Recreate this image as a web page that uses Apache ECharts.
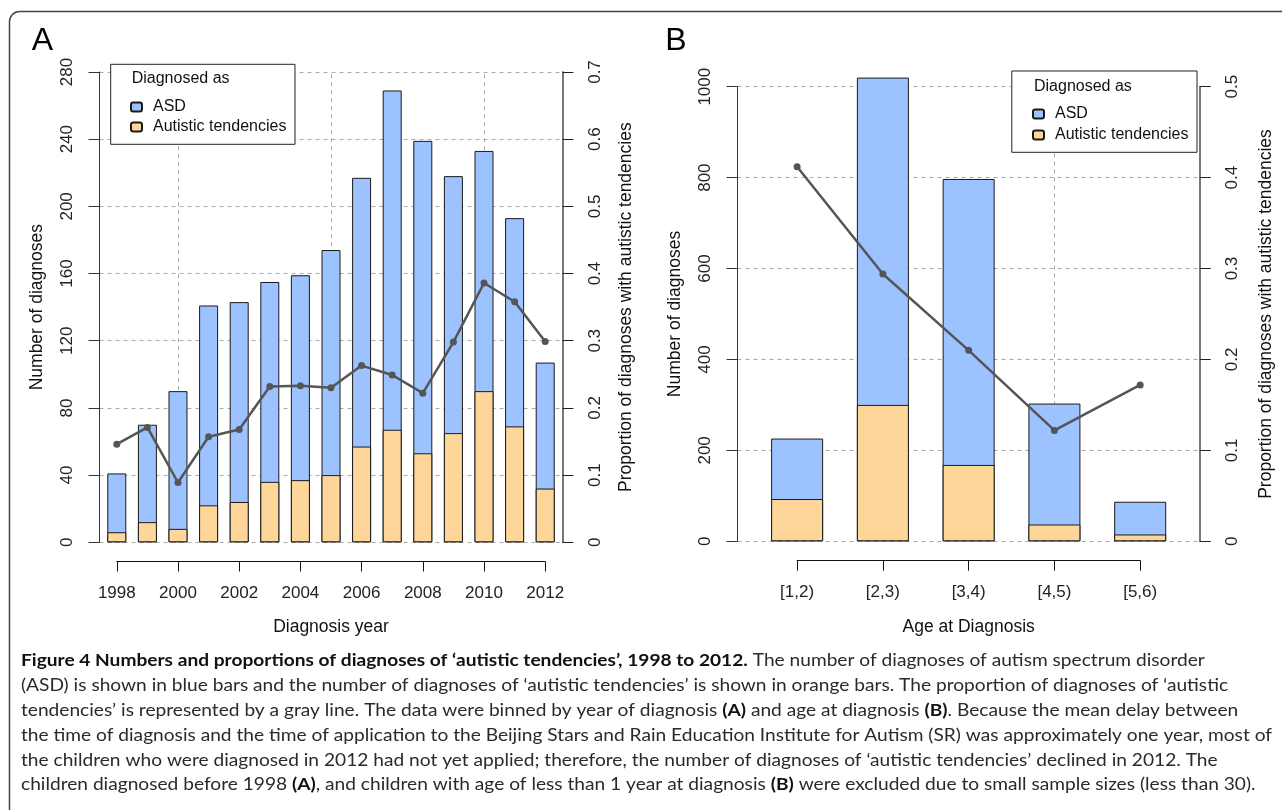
<!DOCTYPE html>
<html>
<head>
<meta charset="utf-8">
<script src="https://cdn.jsdelivr.net/npm/echarts@6/dist/echarts.min.js"></script>
<style>
  html, body { margin: 0; padding: 0; background: #fff; }
  #chart { width: 1282px; height: 810px; }
</style>
</head>
<body>
<div id="chart"></div>
<script>
// Panel A: by year of diagnosis (bar heights = all diagnoses, orange part = autistic tendencies)
const years = ['1998', '1999', '2000', '2001', '2002', '2003', '2004', '2005',
    '2006', '2007', '2008', '2009', '2010', '2011', '2012'];
const totalByYear = [41, 70, 90, 141, 143, 155, 159, 174, 217, 269, 239, 218, 233, 193, 107];
const tendByYear = [6, 12, 8, 22, 24, 36, 37, 40, 57, 67, 53, 65, 90, 69, 32];
const propByYear = [0.146, 0.171, 0.089, 0.157, 0.168, 0.232, 0.233, 0.230,
    0.263, 0.249, 0.222, 0.298, 0.386, 0.358, 0.299];
const yearGridLines = ['2000', '2005', '2010'];

// Panel B: by age at diagnosis
const ages = ['[1,2)', '[2,3)', '[3,4)', '[4,5)', '[5,6)'];
const totalByAge = [226, 1020, 797, 303, 87];
const tendByAge = [93, 300, 168, 37, 15];
const propByAge = [0.412, 0.294, 0.210, 0.122, 0.172];
const ageGridLines = ['[4,5)'];

// axis ranges
const countAxisA = { max: 280, step: 40 };
const propAxisA = { max: 0.7, step: 0.1 };
const countAxisB = { max: 1000, step: 200 };
const propAxisB = { max: 0.5, step: 0.1 };

const legendNames = ['ASD', 'Autistic tendencies'];

const captionLines = [
    [['b', 'Figure 4 Numbers and proportions of diagnoses of \u2018autistic tendencies\u2019, 1998 to 2012.'],
        ['n', ' The number of diagnoses of autism spectrum disorder']],
    [['n', '(ASD) is shown in blue bars and the number of diagnoses of \u2018autistic tendencies\u2019 is shown in orange bars. The proportion of diagnoses of \u2018autistic']],
    [['n', 'tendencies\u2019 is represented by a gray line. The data were binned by year of diagnosis '],
        ['b', '(A)'], ['n', ' and age at diagnosis '], ['b', '(B)'],
        ['n', '. Because the mean delay between']],
    [['n', 'the time of diagnosis and the time of application to the Beijing Stars and Rain Education Institute for Autism (SR) was approximately one year, most of']],
    [['n', 'the children who were diagnosed in 2012 had not yet applied; therefore, the number of diagnoses of \u2018autistic tendencies\u2019 declined in 2012. The']],
    [['n', 'children diagnosed before 1998 '], ['b', '(A)'],
        ['n', ', and children with age of less than 1 year at diagnosis '], ['b', '(B)'],
        ['n', ' were excluded due to small sample sizes (less than 30).']]
];

const BLUE = '#9cc3ff';
const ORANGE = '#ffd699';
const FONT = 'Liberation Sans';
const CAP_FONT = 'Lato';

// layout of the two panels
const panelA = { left: 99.5, top: 72, width: 463, height: 470.3, pad: 0.565, axisY: 561.5, barWidth: 19 };
const panelB = { left: 737.5, top: 86.7, width: 462.3, height: 454.6, pad: 0.695, axisY: 560.7, barWidth: 52 };

function centerX(panel, n, i) {
    let span = (n - 1) + 2 * panel.pad;
    return panel.left + (i + panel.pad) * panel.width / span;
}

function textWidth(str, font) {
    let ctx = document.createElement('canvas').getContext('2d');
    ctx.font = font;
    return ctx.measureText(str).width;
}

function countAxis(gridIndex, range, name) {
    return {
        type: 'value', gridIndex: gridIndex, position: 'left',
        min: 0, max: range.max, interval: range.step,
        name: name, nameLocation: 'middle', nameGap: 53, nameRotate: 90,
        nameTextStyle: { fontFamily: FONT, fontSize: 17.5, color: '#111' },
        axisLine: { show: true, onZero: false, lineStyle: { color: '#333', width: 1 } },
        axisTick: { show: true, length: 11, lineStyle: { color: '#333' } },
        axisLabel: {
            rotate: 90, margin: 32, align: 'center', verticalAlign: 'middle',
            fontFamily: FONT, fontSize: 17, color: '#222',
            formatter: v => String(v)
        },
        splitLine: { show: true, lineStyle: { color: '#aaa', type: [4, 4], width: 1 } }
    };
}

function propAxis(gridIndex, range, nameGap) {
    return {
        type: 'value', gridIndex: gridIndex, position: 'right',
        min: 0, max: range.max, interval: range.step,
        name: 'Proportion of diagnoses with autistic tendencies',
        nameLocation: 'middle', nameGap: nameGap, nameRotate: 90,
        nameTextStyle: { fontFamily: FONT, fontSize: 17.5, color: '#111' },
        axisLine: { show: true, onZero: false, lineStyle: { color: '#777', width: 2 } },
        axisTick: { show: true, length: 11, lineStyle: { color: '#222' } },
        axisLabel: {
            rotate: 90, margin: 33, align: 'center', verticalAlign: 'middle',
            fontFamily: FONT, fontSize: 17, color: '#222'
        },
        splitLine: { show: false }
    };
}

function labelAxis(gridIndex, cats, name, every) {
    return {
        type: 'category', gridIndex: gridIndex, position: 'bottom',
        data: cats, boundaryGap: false,
        name: name, nameLocation: 'middle', nameGap: 57,
        nameTextStyle: { fontFamily: FONT, fontSize: 17.5, color: '#111' },
        axisLine: { show: true, onZero: false, lineStyle: { color: '#111', width: 1 } },
        axisTick: { show: true, length: 10, interval: every, lineStyle: { color: '#111' } },
        axisLabel: { interval: every, margin: 23, fontFamily: FONT, fontSize: 17, color: '#222' },
        splitLine: { show: false }
    };
}

function barSeries(name, values, xIdx, yIdx, color, panel, gridCats, gridLines) {
    let s = {
        name: name, type: 'bar', barGap: '-100%',
        xAxisIndex: xIdx, yAxisIndex: yIdx,
        barWidth: panel.barWidth, clip: false,
        data: values.map((v, i) => [i, v]),
        itemStyle: { color: color, borderColor: '#1a1a1a', borderWidth: 1 },
        emphasis: { disabled: true }
    };
    if (gridLines) {
        s.markLine = {
            silent: true, symbol: 'none', z: 1,
            label: { show: false },
            lineStyle: { color: '#aaa', type: [4, 4], width: 1 },
            data: gridLines.map(c => ({ xAxis: gridCats.indexOf(c) }))
        };
    }
    return s;
}

function lineSeries(name, values, xIdx, yIdx) {
    return {
        name: name, type: 'line', xAxisIndex: xIdx, yAxisIndex: yIdx,
        data: values.map((v, i) => [i, v]),
        symbol: 'circle', symbolSize: 7, z: 4,
        itemStyle: { color: '#555' },
        lineStyle: { color: '#555', width: 2.5 },
        emphasis: { disabled: true }
    };
}

function legendBox(x, y, w, h, titleX, titleY) {
    return [{
        type: 'rect', z: 3, silent: true,
        shape: { x: x, y: y, width: w, height: h },
        style: { fill: '#fff', stroke: '#222', lineWidth: 1 }
    }, {
        type: 'text', z: 5, silent: true, x: titleX, y: titleY,
        style: { text: 'Diagnosed as', font: '16px "' + FONT + '"', fill: '#111', verticalAlign: 'middle' }
    }];
}

function captionGraphics() {
    let size = 17;
    let scale = 1251 / textWidth(captionLines[3][0][1], size + 'px ' + CAP_FONT);
    let rich = {
        b: { fontFamily: CAP_FONT, fontSize: size, fontWeight: 'bold', fill: '#111' },
        n: { fontFamily: CAP_FONT, fontSize: size, fill: '#2a2a2a' }
    };
    return captionLines.map((segs, k) => ({
        type: 'text', silent: true, x: 21, y: 661 + k * 24.8, scaleX: scale,
        style: {
            text: segs.map(s => '{' + s[0] + '|' + s[1] + '}').join(''),
            rich: rich, verticalAlign: 'middle'
        }
    }));
}

let chart = echarts.init(document.getElementById('chart'));

let aFirst = centerX(panelA, years.length, 0);
let aLast = centerX(panelA, years.length, years.length - 1);
let bFirst = centerX(panelB, ages.length, 0);
let bLast = centerX(panelB, ages.length, ages.length - 1);

let option = {
    animation: false,
    backgroundColor: '#fff',
    grid: [
        { left: panelA.left, top: panelA.top, width: panelA.width, height: panelA.height },
        { left: aFirst, top: panelA.axisY - 1, width: aLast - aFirst, height: 1 },
        { left: panelB.left, top: panelB.top, width: panelB.width, height: panelB.height },
        { left: bFirst, top: panelB.axisY - 1, width: bLast - bFirst, height: 1 }
    ],
    xAxis: [
        { type: 'value', gridIndex: 0, show: false, min: -panelA.pad, max: years.length - 1 + panelA.pad },
        labelAxis(1, years, 'Diagnosis year', 1),
        { type: 'value', gridIndex: 2, show: false, min: -panelB.pad, max: ages.length - 1 + panelB.pad },
        labelAxis(3, ages, 'Age at Diagnosis', 0)
    ],
    yAxis: [
        countAxis(0, countAxisA, 'Number of diagnoses'),
        propAxis(0, propAxisA, 55),
        { type: 'value', gridIndex: 1, show: false },
        countAxis(2, countAxisB, 'Number of diagnoses'),
        propAxis(2, propAxisB, 57),
        { type: 'value', gridIndex: 3, show: false }
    ],
    legend: [
        {
            data: legendNames, orient: 'vertical', left: 125, top: 94,
            itemWidth: 11, itemHeight: 9, itemGap: 4, selectedMode: false,
            textStyle: { fontFamily: FONT, fontSize: 16, color: '#111', padding: [0, 0, 0, 6] }
        },
        {
            data: legendNames, orient: 'vertical', left: 1027, top: 101,
            itemWidth: 11, itemHeight: 9, itemGap: 5, selectedMode: false,
            textStyle: { fontFamily: FONT, fontSize: 16, color: '#111', padding: [0, 0, 0, 6] }
        }
    ],
    series: [
        barSeries('ASD', totalByYear, 0, 0, BLUE, panelA, years, yearGridLines),
        barSeries('Autistic tendencies', tendByYear, 0, 0, ORANGE, panelA),
        lineSeries('Proportion A', propByYear, 0, 1),
        barSeries('ASD', totalByAge, 2, 3, BLUE, panelB, ages, ageGridLines),
        barSeries('Autistic tendencies', tendByAge, 2, 3, ORANGE, panelB),
        lineSeries('Proportion B', propByAge, 2, 4)
    ],
    graphic: [
        {
            type: 'rect', silent: true,
            shape: { x: 9.5, y: 11.5, width: 1300, height: 830, r: 10 },
            style: { fill: 'none', stroke: '#444', lineWidth: 1.5 }
        },
        {
            type: 'text', silent: true, x: 42.5, y: 41,
            style: { text: 'A', font: '32px "' + FONT + '"', fill: '#000', align: 'center', verticalAlign: 'middle' }
        },
        {
            type: 'text', silent: true, x: 676, y: 41,
            style: { text: 'B', font: '32px "' + FONT + '"', fill: '#000', align: 'center', verticalAlign: 'middle' }
        }
    ].concat(legendBox(110.7, 64.3, 184.3, 80, 131.7, 79))
     .concat(legendBox(1011.8, 71, 185.2, 81.3, 1034, 86.7))
     .concat(captionGraphics())
};

chart.setOption(option);
</script>
</body>
</html>
